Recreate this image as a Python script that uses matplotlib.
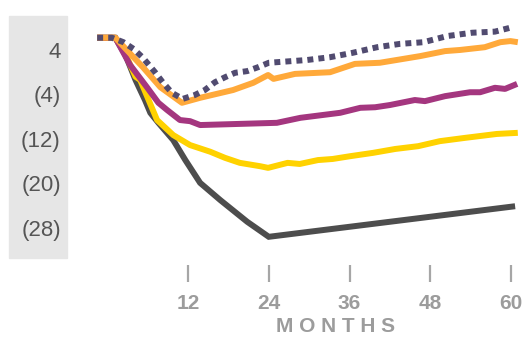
import matplotlib
matplotlib.use('Agg')
import matplotlib.pyplot as plt
from matplotlib.patches import Rectangle

plt.rcParams['font.family'] = ['Liberation Sans', 'DejaVu Sans']

# values (months, value)
black_m = [-1.5, 1.2, 2.7, 4.2, 5.6, 6.4, 7.6, 9.8, 11.6, 13.8, 16.8, 20.8, 24.0, 60.6]
black_v = [6.2, 6.2, 3.1, -1.4, -5.0, -7.3, -9.1, -12.2, -15.8, -19.9, -23.0, -26.9, -29.6, -24.1]

yellow_m = [-1.5, 1.2, 2.7, 4.2, 4.9, 7.4, 9.8, 12.3, 15.3, 17.5, 19.7, 22.7, 23.9, 26.8, 28.6,
            31.3, 33.5, 36.1, 39.5, 42.8, 46.2, 49.4, 53.2, 57.9, 61.0]
yellow_v = [6.2, 6.2, 3.3, -0.8, -1.4, -8.6, -11.3, -13.1, -14.3, -15.4, -16.3, -16.9, -17.2, -16.3, -16.5,
            -15.8, -15.6, -15.1, -14.5, -13.8, -13.3, -12.4, -11.8, -11.1, -10.9]

purple_m = [-1.5, 1.2, 3.4, 5.9, 7.6, 8.9, 10.8, 12.3, 13.8, 25.2, 28.7, 34.6, 37.6, 39.8, 42.0,
            45.7, 47.2, 50.2, 53.9, 55.4, 57.6, 59.1, 60.9]
purple_v = [6.2, 6.2, 1.3, -2.7, -5.5, -6.8, -8.6, -8.8, -9.5, -9.1, -8.2, -7.3, -6.4, -6.3, -5.9,
            -5.0, -5.2, -4.3, -3.6, -3.6, -2.8, -3.0, -2.1]

orange_m = [-1.5, 1.2, 5.3, 7.9, 11.1, 13.8, 18.7, 21.7, 23.9, 24.7, 27.9, 33.1, 36.8, 40.5,
            46.5, 50.2, 52.4, 56.1, 58.4, 59.9, 61.0]
orange_v = [6.2, 6.2, 0.9, -2.7, -5.5, -4.6, -3.2, -1.9, -0.5, -1.2, -0.3, 0.0, 1.5, 1.7,
            2.9, 3.8, 4.0, 4.5, 5.4, 5.6, 5.4]

dotted_m = [-1.5, 0.7, 2.4, 3.9, 5.3, 7.1, 8.3, 9.6, 11.2, 13.0, 14.5, 16.0, 17.5, 19.0, 20.8,
            22.4, 24.0, 29.7, 33.1, 36.5, 40.1, 43.5, 47.0, 50.5, 54.2, 57.6, 60.2]
dotted_v = [6.2, 6.2, 5.4, 4.2, 2.6, 0.0, -1.9, -3.7, -4.8, -4.1, -3.2, -1.8, -0.9, -0.1, 0.2,
            0.9, 1.7, 2.2, 2.7, 3.5, 4.5, 5.1, 5.4, 6.5, 7.1, 7.3, 8.1]

xticks = [12, 24, 36, 48, 60]
yticks = [4, -4, -12, -20, -28]
ylabels = ['4', '(4)', '(12)', '(20)', '(28)']

fig = plt.figure(figsize=(5.29, 3.37), dpi=100)
fig.add_artist(Rectangle((9 / 529, 1 - 258 / 337), 58 / 529, 242 / 337,
                         transform=fig.transFigure, color='#E6E6E6', zorder=0))

ax = fig.add_axes([90 / 529, 1 - 265 / 337, 435 / 529, 255 / 337])
ax.patch.set_alpha(0)

lw = 4.3
ax.plot(black_m, black_v, color='#4D4D4D', lw=lw, solid_capstyle='butt', solid_joinstyle='miter')
ax.plot(yellow_m, yellow_v, color='#FFD200', lw=lw, solid_capstyle='butt')
ax.plot(purple_m, purple_v, color='#A4367F', lw=lw, solid_capstyle='butt')
ax.plot(orange_m, orange_v, color='#FFA93A', lw=lw, solid_capstyle='butt')
ax.plot(dotted_m, dotted_v, color='#514B70', lw=lw, linestyle=(0, (1, 0.85)), dash_capstyle='butt')

ax.set_xlim(-2.563, 62.07)
ax.set_ylim(-34.67, 11.19)

for s in ax.spines.values():
    s.set_visible(False)

ax.set_xticks(xticks)
ax.set_xticklabels([str(t) for t in xticks], fontsize=15, fontweight='bold', color='#9C9C9C')
ax.tick_params(axis='x', length=12.2, width=1.6, color='#A6A6A6', pad=9)

ax.set_yticks(yticks)
ax.set_yticklabels(ylabels, fontsize=16, color='#555555')
ax.tick_params(axis='y', length=0, pad=21)

fig.text(336 / 529, 1 - 327 / 337, 'M O N T H S', ha='center', va='center',
         fontsize=15, fontweight='bold', color='#9C9C9C')

fig.savefig('out.png', dpi=100)
